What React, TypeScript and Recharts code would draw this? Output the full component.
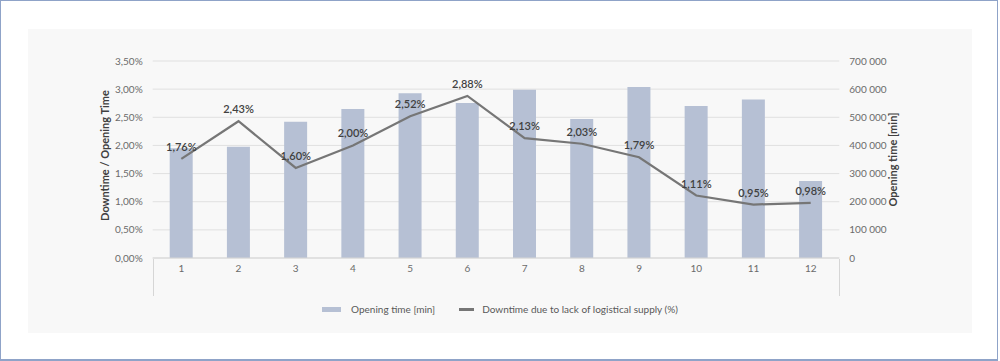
import React from "react"
import { ComposedChart, Bar, Line, XAxis, YAxis, CartesianGrid, Legend, LabelList } from "recharts"

const months = ["1", "2", "3", "4", "5", "6", "7", "8", "9", "10", "11", "12"]
const openingTime = [390000, 395000, 484000, 529000, 585000, 551000, 598000, 494000, 608000, 540000, 563000, 274000]
const downtimePct = [1.76, 2.43, 1.6, 2.0, 2.52, 2.88, 2.13, 2.03, 1.79, 1.11, 0.95, 0.98]
const pctTicks = [0, 0.5, 1, 1.5, 2, 2.5, 3, 3.5]
const minTicks = [0, 100000, 200000, 300000, 400000, 500000, 600000, 700000]

const BAR_COLOR = "#b6c0d4"
const LINE_COLOR = "#767676"
const FONT = "Lato, 'Open Sans', sans-serif"

const data = months.map((m, i) => ({
    month: m,
    opening: openingTime[i],
    downtime: downtimePct[i],
}))

const fmtPct = (v: number) => v.toFixed(2).replace(".", ",") + "%"
const fmtMin = (v: number) => (v === 0 ? "0" : String(v).replace(/\B(?=(\d{3})+(?!\d))/g, " "))

function AxisTitle({ viewBox, value, dx, dy = 0 }: any) {
    const cx = viewBox.x + dx
    const cy = viewBox.y + viewBox.height / 2 + dy
    return (
        <text
            x={cx}
            y={cy}
            transform={`rotate(-90, ${cx}, ${cy})`}
            textAnchor="middle"
            dominantBaseline="central"
            fill="#404040"
            fontSize={11}
            fontWeight={700}
            fontFamily={FONT}
        >
            {value}
        </text>
    )
}

function LegendContent() {
    const txt = { fontSize: 10, color: "#595959", fontFamily: FONT }
    return (
        <div style={{ display: "flex", justifyContent: "center", alignItems: "center" }}>
            <span style={{ width: 19, height: 5, background: BAR_COLOR, display: "inline-block", marginRight: 10 }} />
            <span style={txt}>Opening time [min]</span>
            <span style={{ width: 15, height: 3, background: LINE_COLOR, display: "inline-block", marginLeft: 24, marginRight: 8 }} />
            <span style={txt}>Downtime due to lack of logistical supply (%)</span>
        </div>
    )
}

export default function App() {
    const tickStyle = { fontSize: 10, fill: "#6b6b6b", fontFamily: FONT }
    return (
        <div style={{ position: "relative", width: 998, height: 361, boxSizing: "border-box", border: "1px solid #8fa3c8", borderBottomWidth: 2, background: "#fff" }}>
            <style>{`body{margin:0}`}</style>
            <div style={{ position: "absolute", left: 27, top: 28, width: 944, height: 304, background: "#f8f8f8" }}>
                <ComposedChart
                    width={944}
                    height={304}
                    data={data}
                    margin={{ top: 32, left: 54.7, right: 62.7, bottom: 38 }}
                    barCategoryGap="30%"
                >
                    <CartesianGrid yAxisId="left" vertical={false} stroke="#e0e0e0" />
                    <XAxis
                        dataKey="month"
                        height={37}
                        axisLine={{ stroke: "#d6d6d6" }}
                        tickLine={false}
                        tickSize={0}
                        tickMargin={7}
                        tick={tickStyle}
                    />
                    <YAxis
                        yAxisId="left"
                        width={70}
                        domain={[0, 3.5]}
                        ticks={pctTicks}
                        tickFormatter={fmtPct}
                        axisLine={false}
                        tickLine={false}
                        tickSize={0}
                        tickMargin={10}
                        tick={tickStyle}
                        label={<AxisTitle value="Downtime / Opening Time" dx={21.5} dy={-4} />}
                    />
                    <YAxis
                        yAxisId="right"
                        orientation="right"
                        width={70}
                        domain={[0, 700000]}
                        ticks={minTicks}
                        tickFormatter={fmtMin}
                        axisLine={false}
                        tickLine={false}
                        tickSize={0}
                        tickMargin={10}
                        tick={{ ...tickStyle, textAnchor: "start" }}
                        label={<AxisTitle value="Opening time [min]" dx={53} />}
                    />
                    <Legend
                        verticalAlign="middle"
                        align="center"
                        content={<LegendContent />}
                        wrapperStyle={{ top: 274, left: 0, width: 944 }}
                    />
                    <Bar yAxisId="right" dataKey="opening" name="Opening time [min]" fill={BAR_COLOR} barSize={23} isAnimationActive={false} />
                    <Line
                        yAxisId="left"
                        dataKey="downtime"
                        name="Downtime due to lack of logistical supply (%)"
                        stroke={LINE_COLOR}
                        strokeWidth={2.2}
                        dot={false}
                        activeDot={false}
                        isAnimationActive={false}
                    >
                        <LabelList
                            dataKey="downtime"
                            position="top"
                            offset={8}
                            formatter={(v: any) => fmtPct(Number(v))}
                            fill="#404040"
                            fontSize={11}
                            fontWeight={600}
                            fontFamily={FONT}
                        />
                    </Line>
                </ComposedChart>
                <div style={{ position: "absolute", left: 124.7, top: 230, width: 1, height: 37, background: "#d6d6d6" }} />
                <div style={{ position: "absolute", left: 811, top: 230, width: 1, height: 37, background: "#d6d6d6" }} />
            </div>
        </div>
    )
}
